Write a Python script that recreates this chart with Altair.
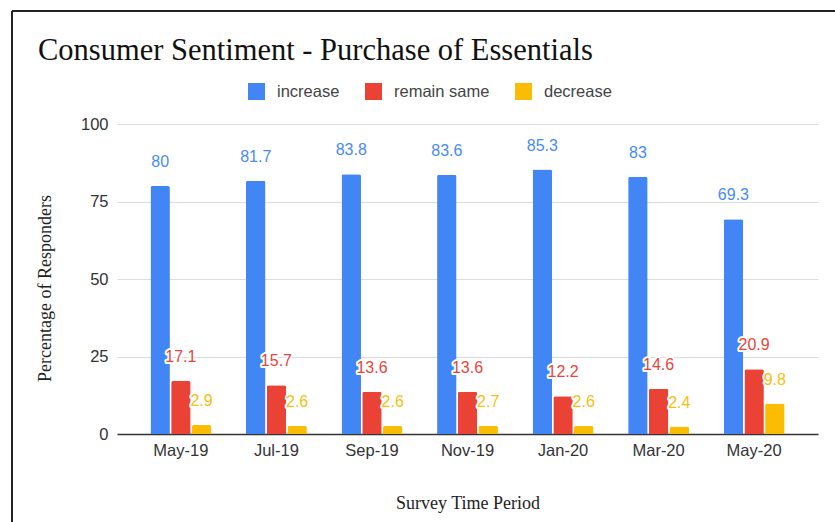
import altair as alt
import pandas as pd

periods = ["May-19", "Jul-19", "Sep-19", "Nov-19", "Jan-20", "Mar-20", "May-20"]
series = ["increase", "remain same", "decrease"]
increase = [80, 81.7, 83.8, 83.6, 85.3, 83, 69.3]
remain_same = [17.1, 15.7, 13.6, 13.6, 12.2, 14.6, 20.9]
decrease = [2.9, 2.6, 2.6, 2.7, 2.6, 2.4, 9.8]
y_ticks = [0, 25, 50, 75, 100]

bar_colors = ["#4285F4", "#EA4335", "#FBBC04"]
label_colors = ["#4a8af4", "#e8453c", "#f7c00c"]

rows = []
for i, p in enumerate(periods):
    for s, vals in zip(series, [increase, remain_same, decrease]):
        rows.append({"period": p, "series": s, "value": vals[i], "label": f"{vals[i]:g}"})
df = pd.DataFrame(rows)

FONT = "Liberation Sans"
SERIF = "Liberation Serif"

x = alt.X(
    "period:N", sort=periods,
    scale=alt.Scale(paddingInner=0.363, paddingOuter=0.35),
    axis=alt.Axis(title="Survey Time Period", labelAngle=0, labelFont=FONT, labelFontSize=16.5,
                  labelColor="#333", labelPadding=8, ticks=False, domainColor="#333", domainWidth=1.5,
                  titleFont=SERIF, titleFontSize=18, titleFontWeight="normal", titleColor="#222",
                  titleY=69, titleBaseline="middle"),
)
xo = alt.XOffset("series:N", sort=series, scale=alt.Scale(paddingInner=0.06))
y = alt.Y(
    "value:Q", scale=alt.Scale(domain=[0, 100]),
    axis=alt.Axis(title="Percentage of Responders", values=y_ticks, labelFont=FONT, labelFontSize=16.5,
                  labelColor="#333", labelPadding=9, ticks=False, domain=False, gridColor="#dddddd",
                  gridWidth=1.2, titleFont=SERIF, titleFontSize=18, titleFontWeight="normal",
                  titleColor="#222", titleX=-72, titleY=164, titleAngle=-90, titleAlign="center",
                  titleBaseline="middle"),
)

base = alt.Chart(df)

bars = base.mark_bar(cornerRadiusTopLeft=2, cornerRadiusTopRight=2).encode(
    x=x, xOffset=xo, y=y,
    color=alt.Color("series:N", sort=series, scale=alt.Scale(domain=series, range=bar_colors),
                    legend=alt.Legend(title=None, orient="none", legendX=131, legendY=-41,
                                      direction="horizontal", symbolType="square", symbolSize=289,
                                      symbolStrokeWidth=0, labelFont=FONT, labelFontSize=16.5,
                                      labelColor="#444", labelOffset=12, columnPadding=25)),
)

halo = base.mark_text(baseline="middle", dy=-24, font=FONT, fontSize=16, fill="white",
                      stroke="white", strokeWidth=4, strokeJoin="round").encode(
    x=x, xOffset=xo, y=y, text="label:N",
)

labels = base.mark_text(baseline="middle", dy=-24, font=FONT, fontSize=16).encode(
    x=x, xOffset=xo, y=y, text="label:N",
    color=alt.Color("series:N", sort=series, scale=alt.Scale(domain=series, range=label_colors),
                    legend=None),
)

frame_data = alt.Data(values=[{"k": 1}])
top_line = alt.Chart(frame_data).mark_rule(color="#222", strokeWidth=2).encode(
    x=alt.value(-105), x2=alt.value(720), y=alt.value(-113))
left_line = alt.Chart(frame_data).mark_rule(color="#222", strokeWidth=2).encode(
    x=alt.value(-105), y=alt.value(-113), y2=alt.value(400))

chart = alt.layer(bars, halo, labels, top_line, left_line).resolve_scale(color="independent").properties(
    width=701, height=310,
    title=alt.TitleParams("Consumer Sentiment - Purchase of Essentials", font=SERIF, fontSize=30.5,
                          fontWeight="normal", color="#111", anchor="start", frame="group",
                          baseline="alphabetic", dx=-79, dy=84),
    autosize=alt.AutoSizeParams(type="none"),
    padding={"left": 117, "top": 124, "right": 17, "bottom": 88},
    background="white",
).configure_view(stroke=None)

chart.save("out.html", embed_options={"renderer": "svg", "actions": False})
